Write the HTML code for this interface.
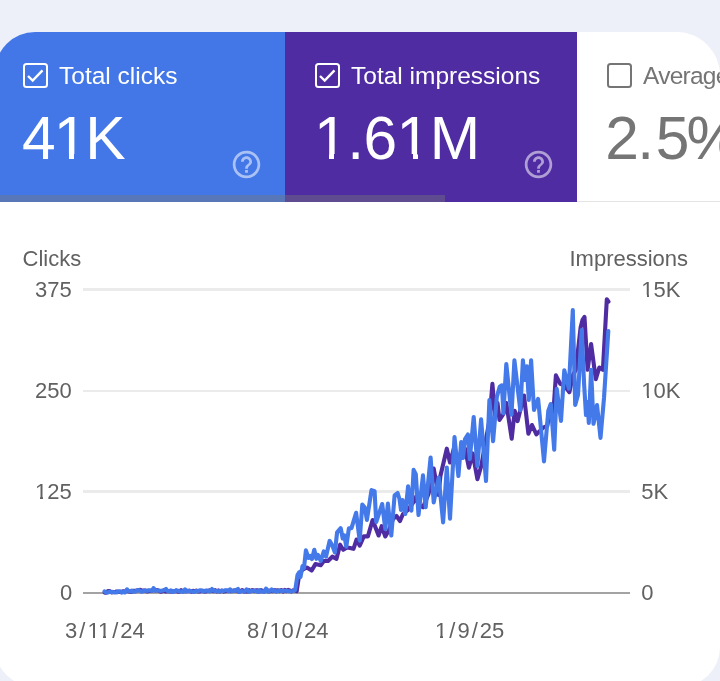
<!DOCTYPE html>
<html><head><meta charset="utf-8">
<style>
*{margin:0;padding:0;box-sizing:border-box}
html,body{width:720px;height:681px;overflow:hidden;background:#edf0f9;font-family:"Liberation Sans",sans-serif}
#card{position:absolute;left:-5px;top:31.5px;width:724.5px;height:655px;border-radius:40px 44px 40px 40px;background:#fff;overflow:hidden}
#in{position:absolute;left:5px;top:-31.5px;width:720px;height:681px;will-change:transform}
.tab{position:absolute;top:32px;height:170.4px}
#t1{left:-6px;width:291px;background:#4377e8}
#t2{left:285px;width:292px;background:#4f2ca1}
#t3{left:577px;width:200px;background:#fff}
#divider{position:absolute;left:577px;top:201px;width:200px;height:1px;background:#e3e3e3}
#strip{position:absolute;left:-6px;top:195px;width:451px;height:7px;background:rgba(120,120,120,0.42)}
.cb{position:absolute;top:63px;width:25px;height:25px;border:2.4px solid #fff;border-radius:3.5px}
.lbl{position:absolute;top:63.6px;font-size:24.5px;line-height:24.5px;color:#fff;white-space:nowrap}
.big{position:absolute;top:108px;font-size:60.5px;line-height:60.5px;color:#fff;white-space:nowrap}
.help{position:absolute;top:147.7px;width:33px;height:33px}
.ax{position:absolute;font-size:22px;line-height:22px;color:#616161;white-space:nowrap}
.sl{margin:0 2px}
.cv{position:absolute;height:2.9px;background:#fff}
.grid{position:absolute;left:82.5px;width:547.5px;height:2.2px;background:#ebebeb}
</style></head><body>
<div id="card"><div id="in">
  <div class="tab" id="t1"></div>
  <div class="tab" id="t2"></div>
  <div class="tab" id="t3"></div>
  <div id="divider"></div>
  <div id="strip"></div>

  <div class="cb" style="left:23px"><svg width="21" height="21" viewBox="0 0 21 21" style="position:absolute;left:0;top:0"><path d="M3 11 L7.7 15.5 L17.5 5.3" fill="none" stroke="#fff" stroke-width="2.4"/></svg></div>
  <div class="lbl" style="left:59px">Total clicks</div>
  <div class="big" style="left:22px;letter-spacing:-2px">41K</div>
  <svg class="help" style="left:230.4px" viewBox="0 0 24 24"><path fill="rgba(255,255,255,0.55)" d="M11 18h2v-2h-2v2zm1-16C6.48 2 2 6.48 2 12s4.48 10 10 10 10-4.48 10-10S17.52 2 12 2zm0 18c-4.41 0-8-3.590-8-8s3.59-8 8-8 8 3.59 8 8-3.59 8-8 8zm0-14c-2.21 0-4 1.790-4 4h2c0-1.1.9-2 2-2s2 .9 2 2c0 2-3 1.75-3 5h2c0-2.25 3-2.5 3-5 0-2.21-1.79-4-4-4z"/></svg>

  <div class="cb" style="left:314.5px"><svg width="21" height="21" viewBox="0 0 21 21" style="position:absolute;left:0;top:0"><path d="M3 11 L7.7 15.5 L17.5 5.3" fill="none" stroke="#fff" stroke-width="2.4"/></svg></div>
  <div class="lbl" style="left:351px">Total impressions</div>
  <div class="big" style="left:314px;letter-spacing:-0.5px">1.61M</div>
  <svg class="help" style="left:522px" viewBox="0 0 24 24"><path fill="rgba(255,255,255,0.55)" d="M11 18h2v-2h-2v2zm1-16C6.48 2 2 6.48 2 12s4.480 10 10 10 10-4.48 10-10S17.52 2 12 2zm0 18c-4.41 0-8-3.59-8-8s3.59-8 8-8 8 3.59 8 8-3.59 8-8 8zm0-14c-2.21 0-4 1.79-4 4h2c0-1.1.9-2 2-2s2 .9 2 2c0 2-3 1.75-3 5h2c0-2.25 3-2.5 3-5 0-2.21-1.79-4-4-4z"/></svg>

  <div style="position:absolute;left:57px;top:153.5px;width:12px;height:6px;background:#4377e8"></div>
  <div style="position:absolute;left:74.4px;top:153.5px;width:12px;height:6px;background:#4377e8"></div>
  <div style="position:absolute;left:316px;top:153.5px;width:13px;height:6px;background:#4f2ca1"></div>
  <div style="position:absolute;left:334.4px;top:153.5px;width:12px;height:6px;background:#4f2ca1"></div>
  <div style="position:absolute;left:399px;top:153.5px;width:13.6px;height:6px;background:#4f2ca1"></div>
  <div style="position:absolute;left:418.4px;top:153.5px;width:10px;height:6px;background:#4f2ca1"></div>
  <div class="cb" style="left:606.5px;border-color:#757575"></div>
  <div class="lbl" style="left:643px;color:#757575;letter-spacing:-0.75px">Average</div>
  <div class="big" style="left:605.3px;color:#757575">2<span style="margin-left:-1.6px">.</span><span style="margin-left:1.6px">5</span><span style="margin-left:-3px">%</span></div>

  <div class="ax" style="left:22.5px;top:248.3px">Clicks</div>
  <div class="ax" style="left:569.5px;top:248.3px">Impressions</div>

  <div class="grid" style="top:288.4px"></div>
  <div class="grid" style="top:389.7px"></div>
  <div class="grid" style="top:490.4px"></div>
  <div class="grid" style="top:591.7px;background:#a3a3a3"></div>

  <div class="ax" style="left:35px;top:279px">375</div>
  <div class="ax" style="left:35px;top:380px">250</div>
  <div class="ax" style="left:35px;top:481px">125</div>
  <div class="ax" style="left:60px;top:582px">0</div>
  <div class="ax" style="left:641.3px;top:279px">15K</div>
  <div class="ax" style="left:641.3px;top:380px">10K</div>
  <div class="ax" style="left:641.3px;top:481px">5K</div>
  <div class="ax" style="left:641.3px;top:582px">0</div>

  <div class="ax" style="left:65px;top:620px">3<span class="sl">/</span>11<span class="sl">/</span>24</div>
  <div class="ax" style="left:247px;top:620px">8<span class="sl">/</span>10<span class="sl">/</span>24</div>
  <div class="ax" style="left:435px;top:620px">1<span class="sl">/</span>9<span class="sl">/</span>25</div>
<!--covers-->
<div class="cv" style="left:35.60px;top:496.61px;width:4.90px"></div>
<div class="cv" style="left:42.75px;top:496.61px;width:4.00px"></div>
<div class="cv" style="left:641.90px;top:294.61px;width:4.90px"></div>
<div class="cv" style="left:649.05px;top:294.61px;width:4.00px"></div>
<div class="cv" style="left:641.90px;top:395.61px;width:4.90px"></div>
<div class="cv" style="left:649.05px;top:395.61px;width:4.00px"></div>
<div class="cv" style="left:87.97px;top:635.61px;width:4.90px"></div>
<div class="cv" style="left:95.12px;top:635.61px;width:4.00px"></div>
<div class="cv" style="left:98.57px;top:635.61px;width:4.90px"></div>
<div class="cv" style="left:105.72px;top:635.61px;width:4.00px"></div>
<div class="cv" style="left:269.98px;top:635.61px;width:4.90px"></div>
<div class="cv" style="left:277.12px;top:635.61px;width:4.00px"></div>
<div class="cv" style="left:435.60px;top:635.61px;width:4.90px"></div>
<div class="cv" style="left:442.75px;top:635.61px;width:4.00px"></div>
<!--/covers-->
<svg id="chart" width="720" height="681" style="position:absolute;left:0;top:0" viewBox="0 0 720 681">
<path d="M104.6 592.6 L106.3 592.6 L108 591 L109.7 591.1 L111.4 592.4 L113.1 592.2 L114.8 592.1 L116.5 591.5 L118.2 592 L119.9 592 L121.6 591.9 L123.3 591.2 L125 591.7 L126.7 590.6 L128.4 591.2 L130.1 591.7 L131.8 591.6 L133.5 590.9 L135.2 590.7 L136.9 590.4 L138.6 590 L140.3 589.9 L142 590.7 L143.7 590.5 L145.4 590.6 L147.1 591.5 L148.8 590.8 L150.5 590.9 L152.2 590.3 L153.9 589.9 L155.6 590.5 L157.3 590.1 L159 590.8 L160.7 591.7 L162.4 591.1 L164.1 590.2 L165.8 591.5 L167.5 591.3 L169.2 591.2 L170.9 591.5 L172.6 591.3 L174.3 591.3 L176 590.5 L177.7 591.7 L179.4 591.6 L181.1 590.2 L182.8 591.3 L184.5 591.2 L186.2 590.7 L187.9 590.9 L189.6 590.8 L191.3 591.6 L193 590.8 L194.7 591.4 L196.4 590.5 L198.1 591.5 L199.8 591.5 L201.5 590.7 L203.2 590.9 L204.9 591.6 L206.6 591.2 L208.3 590.8 L210 590.3 L211.7 590.5 L213.4 591.2 L215.1 590.2 L216.8 591.5 L218.5 590.4 L220.2 591.5 L221.9 590.5 L223.6 591.6 L225.3 591.2 L227 590.8 L228.7 590.8 L230.4 591.1 L232.1 591 L233.8 590.5 L235.5 590.3 L237.2 590.8 L238.9 591.6 L240.6 591 L242.3 590 L244 591.4 L245.7 591.2 L247.4 591.5 L249.1 590.2 L250.8 591.2 L252.5 590 L254.2 591.1 L255.9 590.4 L257.6 590.3 L259.3 591.5 L261 590.1 L262.7 590.8 L264.4 591.4 L266.1 590.3 L267.8 590.3 L269.5 591.5 L271.2 590.7 L272.9 591.2 L274.6 590 L276.3 590.6 L278 590.2 L279.7 591.1 L281.4 590 L283.1 591.6 L284.8 589.9 L286.5 591.2 L288.2 589.9 L289.9 590.4 L291.6 591.4 L293.3 590.2 L295 590.2 L296.7 591.1 L297 589 L299 576 L302 570 L306.9 567.5 L311.7 570.5 L315.4 564.1 L320.7 565.2 L323.8 561 L328 561 L332.3 556.7 L336.5 558.8 L340.1 544.7 L343.2 549.8 L347 547.5 L350 548 L353.5 548.8 L356.6 539.5 L359.7 545.7 L363.8 536.4 L367.9 536.4 L372.6 520 L378.6 535.5 L381.7 526.2 L385.3 536.5 L389 530 L393 519 L396.5 516 L400 521 L403 514 L408 510 L414.5 500.5 L416.3 496.3 L419 505 L423 507.3 L428.5 494 L433.7 468.5 L438.5 495 L440.4 476 L446.8 448.7 L450 462.5 L454 448 L458 462 L461 452 L465 448.6 L468.9 467.7 L472.7 453.4 L477.4 479.2 L481.3 465.8 L485 444.8 L489.5 420 L492.4 383.8 L495 415 L497.5 403 L499.5 420 L503.4 414 L506.3 403 L511.7 438.8 L514.7 410.8 L517.6 421.1 L524 395.6 L528.4 433.8 L532 425 L536.4 434.4 L543.2 427.6 L547.3 426 L550.8 405 L553.2 415 L555.9 375.3 L560.1 383.7 L564 385 L569.4 392.2 L573 375 L575.8 369.8 L580.6 327.6 L582.5 320 L584.5 317 L587.6 369.8 L591.1 344 L595.8 379.2 L599.3 367.5 L602.9 369.8 L606.8 299.3 L608.5 301.6" fill="none" stroke="#4f2ca1" stroke-width="4.1" stroke-linejoin="round" stroke-linecap="round"/>
<path d="M104.6 591.3 L106.3 592.6 L108 592.5 L109.7 591.6 L111.4 592 L113.1 591.9 L114.8 592.3 L116.5 592.5 L118.2 591.3 L119.9 591.2 L121.6 592.6 L123.3 591.9 L125 592.5 L127 589.3 L128.4 590.9 L130.1 591.4 L131.8 590.5 L133.5 591.8 L135.2 591.7 L136.9 590.2 L138.6 590.1 L140.3 591.1 L142 591.8 L143.7 590.8 L145.4 590.5 L147.1 590.9 L148.8 590.2 L150.5 590.5 L152.2 590.9 L153.5 588.2 L155.6 590.5 L157.3 590.5 L159 590.5 L160.7 590.9 L162.4 590.6 L164.1 590.1 L166 589 L167.5 591.1 L169.2 591.3 L170.9 590.4 L172.6 591.9 L174.3 591.6 L176 590.3 L177.7 590.7 L179.4 591.4 L181.1 591.4 L182.8 591.8 L185 589.3 L186.2 591.6 L187.9 591.3 L189.6 590.6 L191.3 591.2 L193 591.7 L194.7 591.6 L196.4 591 L198.1 591.2 L199.8 590.2 L201.5 590.5 L203.2 591.5 L204.9 590.8 L206.6 590.4 L208.3 591.1 L210 591.4 L212 589 L213.4 590.8 L215.1 590.9 L216.8 591 L218.5 591.5 L220.2 591 L221.9 590.8 L223.6 591 L225.3 590.2 L227 590.2 L228.7 591.4 L230 589.3 L232.1 591.2 L233.8 590.8 L235.5 590.4 L238 589 L238.9 591.9 L240.6 591.5 L242.3 591.1 L244 591.6 L245.7 590.5 L246.6 589.3 L249.1 591.8 L250.8 591.1 L252.5 590.9 L254.2 590.6 L255.9 591.1 L257.6 591.8 L259.3 590.1 L261 591.5 L262.7 591.6 L264.4 591.7 L266 588.6 L267.8 591.6 L269.5 591 L271.6 589.5 L272.9 590.9 L274.6 590.2 L276.3 591.7 L278 591.1 L279.7 590.5 L281.4 591 L283.1 591 L284.8 590.7 L286.5 590.7 L288.2 591.1 L289.9 591.2 L291.6 591.2 L293.3 590.9 L295 590.2 L295.3 589.5 L297.5 575 L299 572.5 L300.5 577 L302.5 566 L304 568 L305.9 550.4 L308.5 558 L310.5 556 L312 559 L314.3 549.8 L316.4 558.8 L318 555 L320.7 561 L323.8 551.4 L326 556.7 L329.6 540.9 L332.3 545.5 L334.9 552.5 L337.1 532.3 L340.7 528.2 L342.7 538.5 L344.3 535.4 L346.3 546.7 L348.9 528.2 L351.5 528.2 L356.1 512.8 L359.7 540.6 L362.3 504.5 L364.8 507.6 L366.9 520 L371.5 490.1 L374.6 491.2 L376.2 522 L382.2 504 L385.3 529 L387.9 503.6 L391.3 535.5 L394.6 495.4 L397.6 493 L399.5 499 L401 510 L402.5 500 L405.3 514 L408.1 486.3 L411.4 510.6 L413.6 469.8 L415.8 474.2 L418.5 515 L423 475.3 L425.7 507.3 L430.6 457.5 L433.7 502.4 L438.7 477.5 L443.1 522.4 L446.8 467.5 L450 518.7 L454.5 437 L458.4 476 L461.2 442 L463 458 L465 439 L467.9 434.5 L469.8 459 L473.7 417 L477.4 466 L481.1 419.3 L486 481 L489.4 400 L493.1 441.2 L496.8 397 L499.7 386.8 L501.9 385.3 L503.4 413.2 L506.3 364 L511.5 414.7 L514.4 360.3 L520.3 410.3 L522.9 360.3 L525 380 L526.8 366.2 L528.8 400 L531.1 360.3 L534 410 L538.1 398.9 L540.7 426 L544 461.4 L548.3 410.7 L550.8 404 L554.2 449.6 L556.7 388.8 L561 420.9 L564.3 370.2 L568.8 388.6 L572.8 310 L575.2 405 L578 395 L581.7 330 L584.1 384 L586 415 L587.6 402 L588.8 423 L591.1 369.8 L593.5 423.8 L597 405 L600.5 437.9 L604 398 L608.3 331" fill="none" stroke="#4479e9" stroke-width="4.1" stroke-linejoin="round" stroke-linecap="round"/>
</svg>
</div></div>
</body></html>
